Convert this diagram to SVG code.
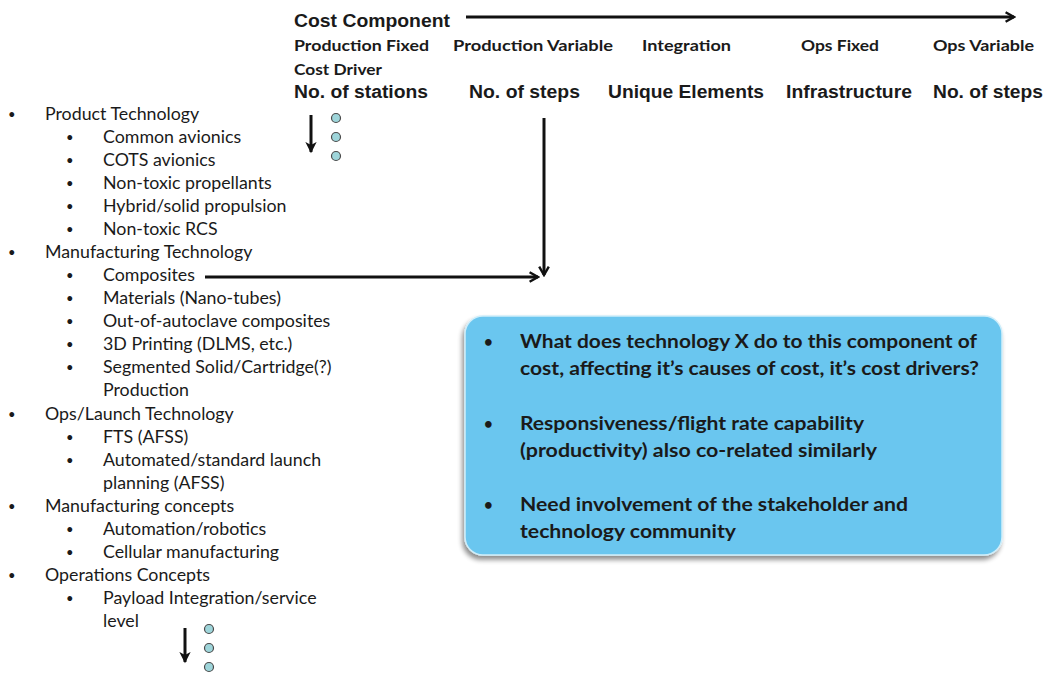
<svg xmlns="http://www.w3.org/2000/svg" width="1047" height="675" viewBox="0 0 1047 675">
<defs>
<style>
.hd{font-family:"Liberation Sans",Arial,sans-serif;font-weight:bold;fill:#1a1a1a}
.cb{font-family:Lato,"Open Sans",sans-serif;font-weight:bold;fill:#1a1a1a}
.li{font-family:Lato,"Open Sans",sans-serif;font-size:17.8px;fill:#1a1a1a}
.bu{font-size:13px}
.bx{font-family:Lato,"Open Sans",sans-serif;font-weight:bold;font-size:19px;fill:#1a1a1a}
.ln{stroke:#111;stroke-width:3;fill:none}
.dot{fill:#9ed5da;stroke:#4a4a4a;stroke-width:1.2}
</style>
<marker id="ah" viewBox="0 0 10 10" refX="8" refY="5" markerWidth="4" markerHeight="4" orient="auto" markerUnits="strokeWidth">
<path d="M1,1 L8,5 L1,9" fill="none" stroke="#111" stroke-width="2"/>
</marker>
<marker id="ahs" viewBox="0 0 10 10" refX="8" refY="5" markerWidth="4.2" markerHeight="4.2" orient="auto" markerUnits="strokeWidth">
<path d="M0,0.5 L9,5 L0,9.5 L2.5,5 Z" fill="#111"/>
</marker>
<filter id="sh" x="-10%" y="-10%" width="120%" height="130%">
<feGaussianBlur in="SourceAlpha" stdDeviation="2.5"/>
<feOffset dx="-2" dy="4" result="b"/>
<feComponentTransfer><feFuncA type="linear" slope="0.45"/></feComponentTransfer>
<feMerge><feMergeNode/><feMergeNode in="SourceGraphic"/></feMerge>
</filter>
</defs>
<rect width="1047" height="675" fill="#fff"/>

<g id="header">
<text class="hd" x="294" y="27" font-size="18" textLength="156" lengthAdjust="spacingAndGlyphs">Cost Component</text>
<text class="cb" x="294" y="51" font-size="16" textLength="135" lengthAdjust="spacingAndGlyphs">Production Fixed</text>
<text class="cb" x="453" y="51" font-size="16" textLength="160" lengthAdjust="spacingAndGlyphs">Production Variable</text>
<text class="cb" x="642" y="51" font-size="16" textLength="89" lengthAdjust="spacingAndGlyphs">Integration</text>
<text class="cb" x="801" y="51" font-size="16" textLength="78" lengthAdjust="spacingAndGlyphs">Ops Fixed</text>
<text class="cb" x="933" y="51" font-size="16" textLength="101" lengthAdjust="spacingAndGlyphs">Ops Variable</text>
<text class="cb" x="294" y="75" font-size="16" textLength="88" lengthAdjust="spacingAndGlyphs">Cost Driver</text>
<text class="hd" x="294" y="98" font-size="18" textLength="134" lengthAdjust="spacingAndGlyphs">No. of stations</text>
<text class="hd" x="469" y="98" font-size="18" textLength="111" lengthAdjust="spacingAndGlyphs">No. of steps</text>
<text class="hd" x="608" y="98" font-size="18" textLength="156" lengthAdjust="spacingAndGlyphs">Unique Elements</text>
<text class="hd" x="786" y="98" font-size="18" textLength="126" lengthAdjust="spacingAndGlyphs">Infrastructure</text>
<text class="hd" x="933" y="98" font-size="18" textLength="110" lengthAdjust="spacingAndGlyphs">No. of steps</text>
</g>

<g id="tech-list">
<g class="li">
<text class="bu" x="8" y="119">•</text><text x="45" y="120">Product Technology</text>
<text class="bu" x="66" y="142">•</text><text x="103" y="143">Common avionics</text>
<text class="bu" x="66" y="165">•</text><text x="103" y="166">COTS avionics</text>
<text class="bu" x="66" y="188">•</text><text x="103" y="189">Non-toxic propellants</text>
<text class="bu" x="66" y="211">•</text><text x="103" y="212">Hybrid/solid propulsion</text>
<text class="bu" x="66" y="234">•</text><text x="103" y="235">Non-toxic RCS</text>
<text class="bu" x="8" y="257">•</text><text x="45" y="258">Manufacturing Technology</text>
<text class="bu" x="66" y="280">•</text><text x="103" y="281">Composites</text>
<text class="bu" x="66" y="303">•</text><text x="103" y="304">Materials (Nano-tubes)</text>
<text class="bu" x="66" y="326">•</text><text x="103" y="327">Out-of-autoclave composites</text>
<text class="bu" x="66" y="349">•</text><text x="103" y="350">3D Printing (DLMS, etc.)</text>
<text class="bu" x="66" y="372">•</text><text x="103" y="373">Segmented Solid/Cartridge(?)</text>
<text x="103" y="396">Production</text>
<text class="bu" x="8" y="419">•</text><text x="45" y="420">Ops/Launch Technology</text>
<text class="bu" x="66" y="442">•</text><text x="103" y="443">FTS (AFSS)</text>
<text class="bu" x="66" y="465">•</text><text x="103" y="466">Automated/standard launch</text>
<text x="103" y="489">planning (AFSS)</text>
<text class="bu" x="8" y="511">•</text><text x="45" y="512">Manufacturing concepts</text>
<text class="bu" x="66" y="534">•</text><text x="103" y="535">Automation/robotics</text>
<text class="bu" x="66" y="557">•</text><text x="103" y="558">Cellular manufacturing</text>
<text class="bu" x="8" y="580">•</text><text x="45" y="581">Operations Concepts</text>
<text class="bu" x="66" y="603">•</text><text x="103" y="604">Payload Integration/service</text>
<text x="103" y="627">level</text>
</g>
</g>

<g id="continuation-dots">
<circle class="dot" cx="336" cy="118" r="4.5"/>
<circle class="dot" cx="336" cy="137" r="4.5"/>
<circle class="dot" cx="336" cy="156" r="4.5"/>
<circle class="dot" cx="209" cy="629" r="4.5"/>
<circle class="dot" cx="209" cy="648" r="4.5"/>
<circle class="dot" cx="209" cy="667" r="4.5"/>
</g>

<g id="question-box">
<rect x="465" y="316" width="537" height="239" rx="18" ry="18" fill="#6bc6ef" stroke="#cfeefa" stroke-width="1.5" filter="url(#sh)"/>
<g class="bx">
<text x="484" y="347" font-size="15">•</text><text x="520" y="348" textLength="457" lengthAdjust="spacingAndGlyphs">What does technology X do to this component of</text>
<text x="520" y="375" textLength="459" lengthAdjust="spacingAndGlyphs">cost, affecting it’s causes of cost, it’s cost drivers?</text>
<text x="484" y="429" font-size="15">•</text><text x="520" y="430" textLength="344" lengthAdjust="spacingAndGlyphs">Responsiveness/flight rate capability</text>
<text x="520" y="457" textLength="357" lengthAdjust="spacingAndGlyphs">(productivity) also co-related similarly</text>
<text x="484" y="510" font-size="15">•</text><text x="520" y="511" textLength="388" lengthAdjust="spacingAndGlyphs">Need involvement of the stakeholder and</text>
<text x="520" y="538" textLength="216" lengthAdjust="spacingAndGlyphs">technology community</text>
</g>
</g>

<g id="connectors">
<line class="ln" x1="466" y1="17" x2="1014" y2="17" marker-end="url(#ah)"/>
<line class="ln" x1="544" y1="118" x2="544" y2="275" marker-end="url(#ah)"/>
<line class="ln" x1="205" y1="277" x2="538" y2="277" marker-end="url(#ah)"/>
<line class="ln" x1="311" y1="115" x2="311" y2="152" marker-end="url(#ahs)"/>
<line class="ln" x1="185" y1="628" x2="185" y2="662" marker-end="url(#ahs)"/>
</g>
</svg>
